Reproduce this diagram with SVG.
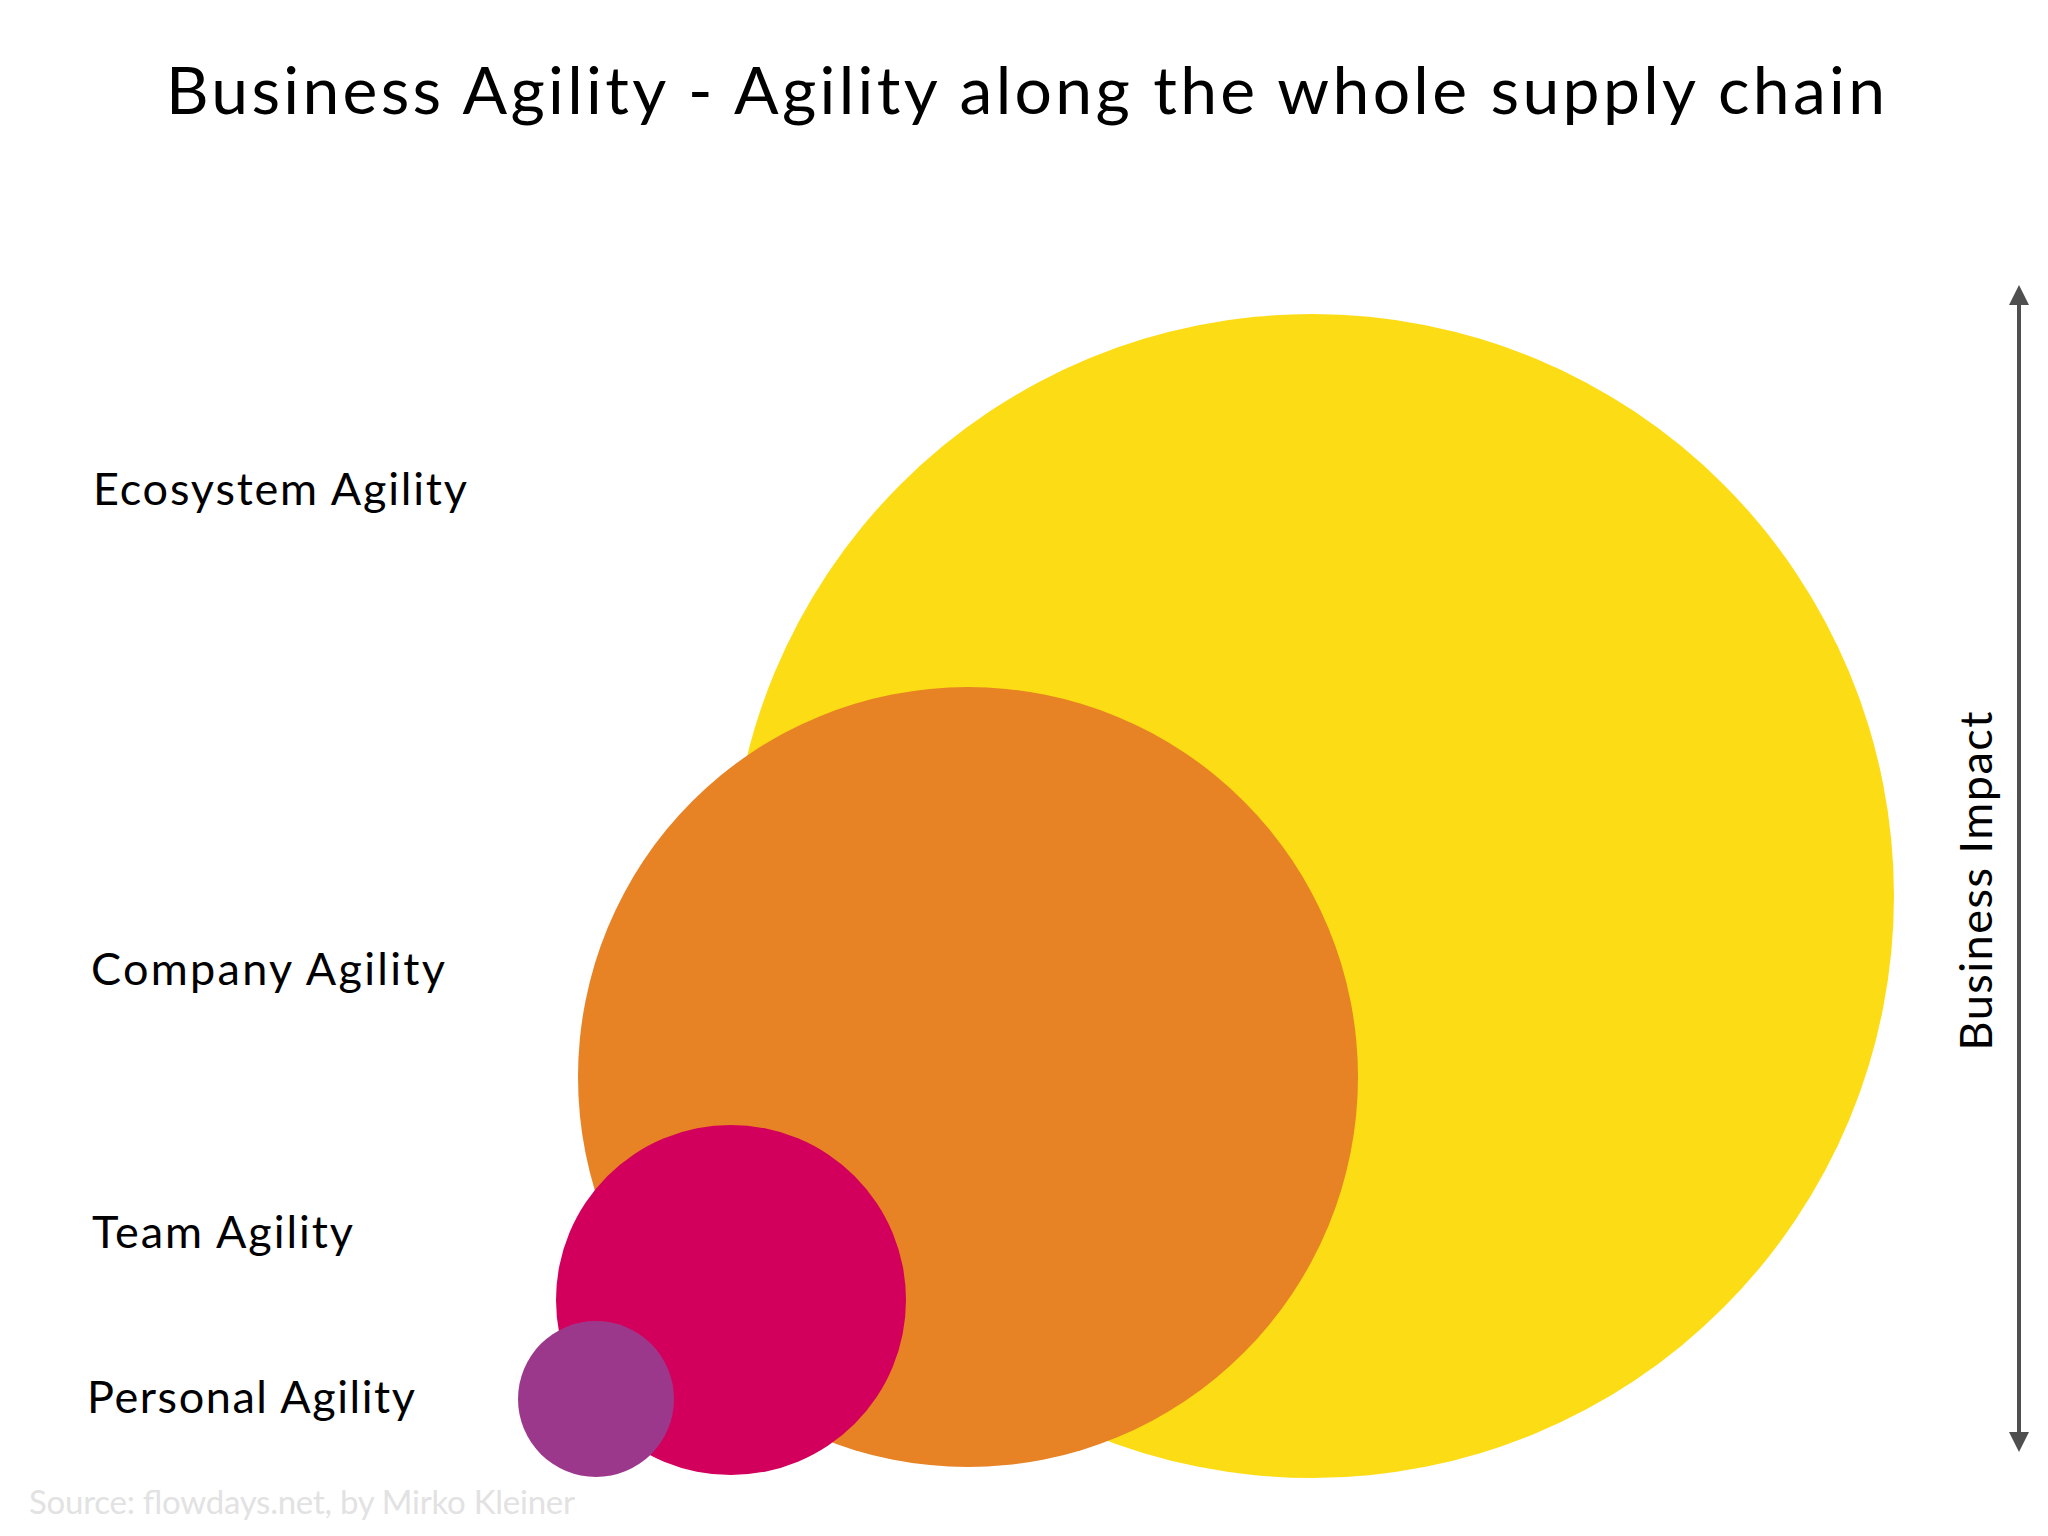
<svg xmlns="http://www.w3.org/2000/svg" width="2048" height="1536" viewBox="0 0 2048 1536">
<defs>
<style>
.t{font-family:Lato,"Noto Sans","Liberation Sans",sans-serif;fill:#000;}
.lbl{font-size:45px;}
.title{font-size:66px;}
.src{font-family:Lato,"Noto Sans","Liberation Sans",sans-serif;font-size:33px;fill:#e2e2e2;}
.axis{stroke:#4f4f4f;stroke-width:4;fill:none;}
</style>
<marker id="ah" viewBox="0 0 20 20" refX="10" refY="10" markerUnits="userSpaceOnUse" markerWidth="20" markerHeight="20" orient="auto-start-reverse">
<path d="M0,0 L20,10 L0,20 Z" fill="#4f4f4f"/>
</marker>
</defs>
<rect width="2048" height="1536" fill="#fff"/>
<text class="t title" x="166" y="114" textLength="1719" lengthAdjust="spacing">Business Agility - Agility along the whole supply chain</text>
<g id="ecosystem"><circle cx="1312" cy="896" r="582" fill="#FCDC14"/></g>
<g id="company"><circle cx="968" cy="1077" r="390" fill="#E78324"/></g>
<g id="team"><circle cx="731" cy="1300" r="175" fill="#D2005C"/></g>
<g id="personal"><circle cx="596" cy="1399" r="78" fill="#9C388B"/></g>
<g id="labels">
<text class="t lbl" x="93" y="505" textLength="374" lengthAdjust="spacing">Ecosystem Agility</text>
<text class="t lbl" x="91" y="985" textLength="354" lengthAdjust="spacing">Company Agility</text>
<text class="t lbl" x="92" y="1248" textLength="261" lengthAdjust="spacing">Team Agility</text>
<text class="t lbl" x="87" y="1413" textLength="328" lengthAdjust="spacing">Personal Agility</text>
</g>
<g id="connectors">
<line class="axis" x1="2019" y1="295" x2="2019" y2="1442" marker-start="url(#ah)" marker-end="url(#ah)"/>
</g>
<g id="axis-label">
<text class="t lbl" x="0" y="0" text-anchor="middle" textLength="339" lengthAdjust="spacing" transform="translate(1992,881) rotate(-90)">Business Impact</text>
</g>
<text class="src" x="29" y="1514" textLength="546" lengthAdjust="spacing">Source: flowdays.net, by Mirko Kleiner</text>
</svg>
